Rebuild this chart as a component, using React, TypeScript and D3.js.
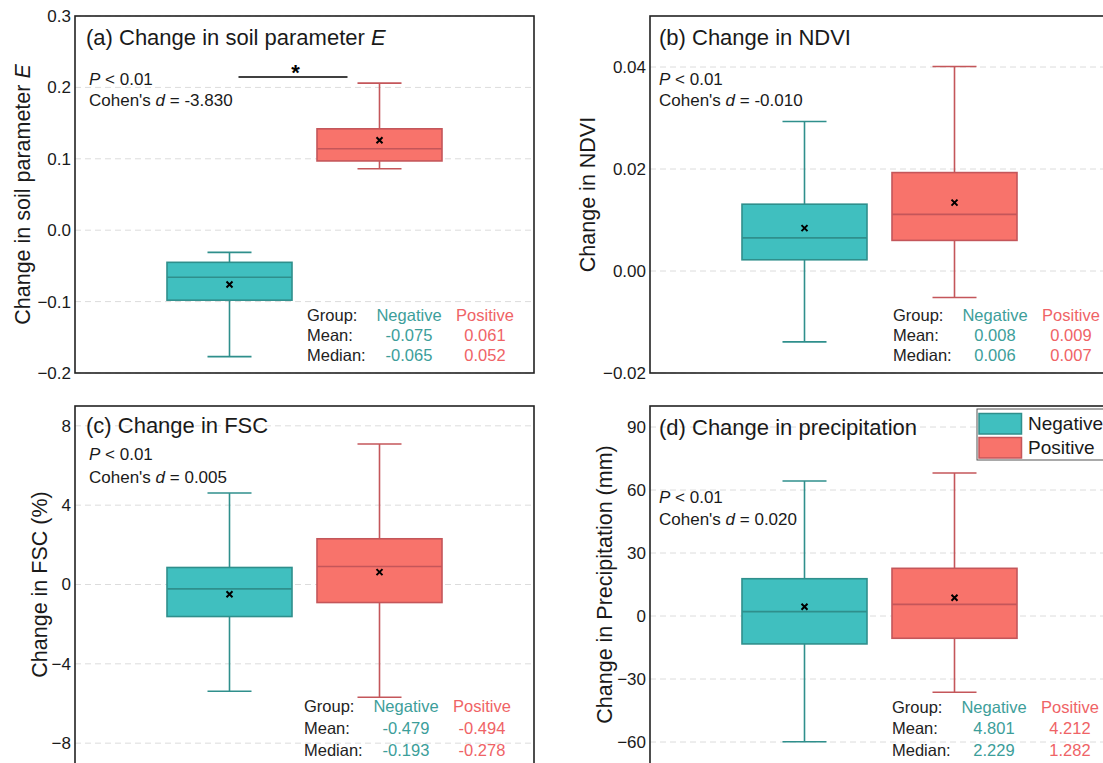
import React from "react";
import * as d3 from "d3";

// box stats per group: [whisker low, Q1, median, Q3, whisker high]
const groups = ["Negative", "Positive"];

const soilNeg = [-0.177, -0.098, -0.066, -0.045, -0.031];
const soilPos = [0.086, 0.097, 0.114, 0.142, 0.206];
const soilMeans = [-0.076, 0.126];
const soilMeanTxt = ["-0.075", "0.061"];
const soilMedianTxt = ["-0.065", "0.052"];

const ndviNeg = [-0.0139, 0.0022, 0.0065, 0.0131, 0.0293];
const ndviPos = [-0.0052, 0.006, 0.0111, 0.0193, 0.0401];
const ndviMeans = [0.0084, 0.0134];
const ndviMeanTxt = ["0.008", "0.009"];
const ndviMedianTxt = ["0.006", "0.007"];

const fscNeg = [-5.385, -1.615, -0.219, 0.858, 4.61];
const fscPos = [-5.688, -0.909, 0.909, 2.305, 7.085];
const fscMeans = [-0.488, 0.623];
const fscMeanTxt = ["-0.479", "-0.494"];
const fscMedianTxt = ["-0.193", "-0.278"];

const preNeg = [-59.9, -13.3, 2.06, 17.75, 64.3];
const prePos = [-36.3, -10.6, 5.55, 22.7, 68.1];
const preMeans = [4.44, 8.72];
const preMeanTxt = ["4.801", "4.212"];
const preMedianTxt = ["2.229", "1.282"];

const soilTicks = [-0.2, -0.1, 0, 0.1, 0.2, 0.3];
const ndviTicks = [-0.02, 0, 0.02, 0.04];
const fscTicks = [-8, -4, 0, 4, 8];
const preTicks = [-60, -30, 0, 30, 60, 90];

const FONT = "'Liberation Sans', Arial, Helvetica, sans-serif";
const fill = { Negative: "#40bfbf", Positive: "#f8736b" };
const edge = { Negative: "#2f8f8c", Positive: "#c4565a" };
const txtCol = { Negative: "#3c9e9a", Positive: "#ef6366" };
const W = 459;
const H = 357;

const minusFmt = (f) => (v) => d3.format(f)(v).replace("-", "\u2212");

const panels = [
  {
    x0: 75, y0: 16, domain: [-0.2, 0.3], ticks: soilTicks, fmt: minusFmt(".1f"),
    boxes: [soilNeg, soilPos], means: soilMeans, meanTxt: soilMeanTxt, medTxt: soilMedianTxt,
    tag: "(a) Change in soil parameter ", tagIt: "E",
    label: "Change in soil parameter ", labelIt: "E", labelX: -53,
    cohen: "-3.830", titleDx: 11, pDx: 14, titleY: 21, pY: 63, cY: 84,
    rows: [299, 319, 339.7], tableDx: 232, sig: true, cut: 0,
  },
  {
    x0: 650, y0: 16, domain: [-0.02, 0.05], ticks: ndviTicks, fmt: minusFmt(".2f"),
    boxes: [ndviNeg, ndviPos], means: ndviMeans, meanTxt: ndviMeanTxt, medTxt: ndviMedianTxt,
    tag: "(b) Change in NDVI", tagIt: "",
    label: "Change in NDVI", labelIt: "", labelX: -63,
    cohen: "-0.010", titleDx: 9, pDx: 9, titleY: 21, pY: 63, cY: 84,
    rows: [299, 319, 339], tableDx: 243, cut: 0,
  },
  {
    x0: 75, y0: 406, domain: [-9, 9], ticks: fscTicks, fmt: minusFmt("d"),
    boxes: [fscNeg, fscPos], means: fscMeans, meanTxt: fscMeanTxt, medTxt: fscMedianTxt,
    tag: "(c) Change in FSC", tagIt: "",
    label: "Change in FSC (%)", labelIt: "", labelX: -36,
    cohen: "0.005", titleDx: 11, pDx: 14, titleY: 19, pY: 48, cY: 71,
    rows: [300.7, 322.3, 344], tableDx: 229, cut: 3,
  },
  {
    x0: 650, y0: 406, domain: [-70, 100], ticks: preTicks, fmt: minusFmt("d"),
    boxes: [preNeg, prePos], means: preMeans, meanTxt: preMeanTxt, medTxt: preMedianTxt,
    tag: "(d) Change in precipitation", tagIt: "",
    label: "Change in Precipitation (mm)", labelIt: "", labelX: -46,
    cohen: "0.020", titleDx: 9, pDx: 9, titleY: 21, pY: 91, cY: 113,
    rows: [301, 322, 344], tableDx: 242, legend: true, cut: 3,
  },
];

function Panel({ p }) {
  const y = d3.scaleLinear().domain(p.domain).range([p.y0 + H, p.y0]);
  const x = d3.scalePoint().domain(groups).range([p.x0, p.x0 + W]).padding(1.03);
  const boxW = 125;
  const capW = 44;
  const tx = p.x0 + p.tableDx;
  const colNeg = tx + 102;
  const colPos = tx + 178;
  return (
    <g fontFamily={FONT}>
      {p.ticks.map((t) => (
        <line key={"g" + t} x1={p.x0} x2={p.x0 + W} y1={y(t)} y2={y(t)}
          stroke="#dcdcdc" strokeWidth={1} strokeDasharray="6,4" />
      ))}
      {p.ticks.map((t) => (
        <text key={"t" + t} x={p.x0 - 4} y={y(t)} dy="0.35em" textAnchor="end"
          fontSize={17} fill="#1a1a1a">{p.fmt(t)}</text>
      ))}
      {groups.map((g, i) => {
        const [lo, q1, med, q3, hi] = p.boxes[i];
        const cx = x(g);
        const my = y(p.means[i]);
        return (
          <g key={g}>
            <line x1={cx} x2={cx} y1={y(hi)} y2={y(q3)} stroke={edge[g]} strokeWidth={1.6} />
            <line x1={cx} x2={cx} y1={y(q1)} y2={y(lo)} stroke={edge[g]} strokeWidth={1.6} />
            <line x1={cx - capW / 2} x2={cx + capW / 2} y1={y(hi)} y2={y(hi)} stroke={edge[g]} strokeWidth={1.6} />
            <line x1={cx - capW / 2} x2={cx + capW / 2} y1={y(lo)} y2={y(lo)} stroke={edge[g]} strokeWidth={1.6} />
            <rect x={cx - boxW / 2} y={y(q3)} width={boxW} height={y(q1) - y(q3)}
              fill={fill[g]} stroke={edge[g]} strokeWidth={1.6} />
            <line x1={cx - boxW / 2} x2={cx + boxW / 2} y1={y(med)} y2={y(med)} stroke={edge[g]} strokeWidth={1.6} />
            <path d={`M${cx - 3},${my - 3}L${cx + 3},${my + 3}M${cx - 3},${my + 3}L${cx + 3},${my - 3}`}
              stroke="#000" strokeWidth={2} />
          </g>
        );
      })}
      {p.sig && (
        <g>
          <line x1={x("Negative") + 9} x2={x("Positive") - 32} y1={p.y0 + 61} y2={p.y0 + 61}
            stroke="#000" strokeWidth={1.6} />
          <text x={(x("Negative") + x("Positive")) / 2 - 9} y={p.y0 + 64} fontSize={22}
            fontWeight="bold" textAnchor="middle" fill="#000">*</text>
        </g>
      )}
      <rect x={p.x0} y={p.y0} width={W} height={H + p.cut} fill="none" stroke="#222" strokeWidth={1.6} />
      <text x={p.x0 + p.titleDx} y={p.y0 + p.titleY} dy="0.35em" fontSize={22} fill="#1a1a1a">
        {p.tag}
        {p.tagIt && <tspan fontStyle="italic">{p.tagIt}</tspan>}
      </text>
      <text x={p.x0 + p.pDx} y={p.y0 + p.pY} dy="0.35em" fontSize={17} fill="#1a1a1a">
        <tspan fontStyle="italic">P</tspan> {"< 0.01"}
      </text>
      <text x={p.x0 + p.pDx} y={p.y0 + p.cY} dy="0.35em" fontSize={17} fill="#1a1a1a">
        {"Cohen's "}<tspan fontStyle="italic">d</tspan>{" = " + p.cohen}
      </text>
      <text transform={`translate(${p.x0 + p.labelX},${p.y0 + H / 2}) rotate(-90)`}
        textAnchor="middle" dy="0.35em" fontSize={21.5} fill="#1a1a1a">
        {p.label}
        {p.labelIt && <tspan fontStyle="italic">{p.labelIt}</tspan>}
      </text>
      <g fontSize={16.5}>
        <text x={tx} y={p.y0 + p.rows[0]} dy="0.35em" fill="#222">Group:</text>
        <text x={tx} y={p.y0 + p.rows[1]} dy="0.35em" fill="#222">Mean:</text>
        <text x={tx} y={p.y0 + p.rows[2]} dy="0.35em" fill="#222">Median:</text>
        {groups.map((g, i) => {
          const cx = i === 0 ? colNeg : colPos;
          return (
            <g key={"s" + g} textAnchor="middle" fill={txtCol[g]}>
              <text x={cx} y={p.y0 + p.rows[0]} dy="0.35em">{g}</text>
              <text x={cx} y={p.y0 + p.rows[1]} dy="0.35em">{p.meanTxt[i]}</text>
              <text x={cx} y={p.y0 + p.rows[2]} dy="0.35em">{p.medTxt[i]}</text>
            </g>
          );
        })}
      </g>
      {p.legend && (
        <g>
          <rect x={p.x0 + 327} y={p.y0 + 3} width={150} height={51} fill="#fff" stroke="#555" strokeWidth={1} />
          {groups.map((g, i) => (
            <g key={"l" + g}>
              <rect x={p.x0 + 329} y={p.y0 + 7.5 + i * 24} width={42.5} height={20.5}
                fill={fill[g]} stroke={edge[g]} strokeWidth={1.5} />
              <text x={p.x0 + 378} y={p.y0 + 17.5 + i * 24} dy="0.35em" fontSize={19} fill="#1a1a1a">{g}</text>
            </g>
          ))}
        </g>
      )}
    </g>
  );
}

export default function App() {
  return (
    <svg width={1103} height={763} style={{ position: "absolute", left: 0, top: 0, background: "#fff" }}>
      <rect width={1103} height={763} fill="#fff" />
      {panels.map((p, i) => (
        <Panel key={i} p={p} />
      ))}
    </svg>
  );
}
